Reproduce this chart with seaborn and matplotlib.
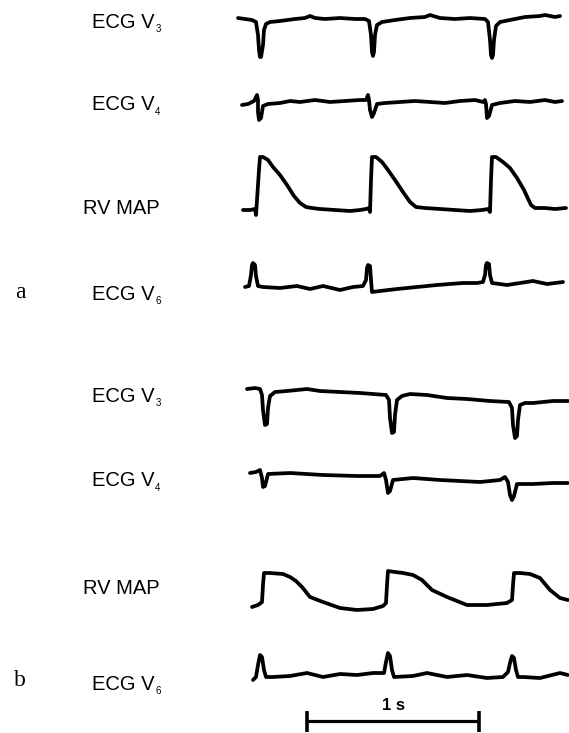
import numpy as np
import pandas as pd
import matplotlib
matplotlib.use("Agg")
import matplotlib.pyplot as plt
import seaborn as sns

# ---------------- data (sample index at FS Hz, amplitude in counts, up = +) ----
FS = 172.0  # samples per second

# Panel a
a_v3_n = [-2, 5, 12, 16, 18, 19, 20, 21, 23, 24, 26, 30, 40, 55, 65, 70, 75, 85, 100, 115, 125,
          129, 131, 132, 133, 134, 135, 137, 142, 155, 170, 185, 190, 200, 215, 230, 245,
          248, 250, 251, 252, 253, 254, 256, 260, 270, 285, 300, 305, 315, 320]
a_v3_amp = [1, 0, -1, -3, -16, -31, -38, -38, -26, -11, -5, -3, -2, 0, 1, 3, 1, 0, 1, 0, 0,
            -2, -16, -33, -37, -33, -16, -6, -3, -1, 1, 2, 4, 1, 0, 1, 0,
            -3, -21, -36, -39, -36, -21, -7, -3, -1, 2, 3, 4, 2, 3]

a_v4_n = [2, 8, 14, 17, 18, 18, 19, 21, 23, 28, 40, 50, 60, 75, 90, 105, 120, 126, 128, 129,
          130, 132, 134, 137, 145, 160, 175, 190, 205, 220, 235, 243, 245, 246, 247, 249, 252,
          260, 275, 290, 305, 315, 322]
a_v4_amp = [-2, -1, 2, 8, 3, -9, -17, -15, -3, -1, 0, 2, 1, 3, 1, 2, 3, 3, 8, 3,
            -7, -14, -10, -1, 0, 1, 2, 1, 0, 2, 3, 1, 3, -1, -15, -13, -2,
            0, 2, 1, 3, 1, 2]

a_map_n = [3, 10, 15, 16, 17, 19, 20, 23, 28, 33, 40, 47, 54, 60, 66, 72, 80, 95, 110, 120,
           126, 129, 130, 131, 132, 136, 142, 148, 155, 163, 170, 176, 185, 200, 215, 230,
           242, 248, 250, 251, 252, 256, 263, 270, 277, 284, 291, 295, 305, 315, 326]
a_map_amp = [0, 0, 1, -5, 10, 40, 53, 53, 50, 43, 35, 25, 14, 7, 3, 2, 1, 0, -1, 0,
             1, 2, -2, 30, 53, 53, 48, 40, 30, 18, 8, 3, 2, 1, 0, -1,
             0, 1, -2, 30, 53, 53, 48, 42, 32, 20, 5, 2, 2, 1, 2]

a_v6_n = [5, 9, 11, 12, 13, 15, 16, 18, 23, 40, 57, 70, 83, 100, 113, 123, 126, 127, 128, 130,
          131, 132, 140, 157, 177, 197, 223, 237, 243, 245, 246, 247, 249, 250, 252, 267, 280,
          293, 307, 323]
a_v6_amp = [0, 1, 12, 22, 24, 22, 11, 1, 0, -1, 1, -2, 1, -3, 0, 1, 7, 19, 22, 21,
            7, -5, -4, -2, 0, 2, 4, 4, 5, 12, 22, 24, 23, 12, 4, 2, 4,
            6, 3, 5]

# Panel b
b_v3_n = [7, 15, 20, 22, 23, 25, 27, 28, 30, 35, 47, 67, 80, 100, 120, 133, 146, 149, 150, 152,
          154, 155, 157, 162, 170, 187, 207, 227, 250, 269, 272, 273, 275, 277, 278, 280, 285,
          293, 313, 328]
b_v3_amp = [1, 2, 1, -5, -20, -35, -34, -18, -6, -2, -1, 1, -1, -2, -3, -4, -5, -10, -28, -43,
            -42, -25, -10, -6, -4, -5, -8, -9, -11, -12, -18, -35, -48, -46, -30, -15, -13,
            -13, -11, -11]

b_v4_n = [10, 16, 20, 22, 23, 25, 28, 50, 83, 117, 140, 144, 146, 148, 150, 153, 173, 200, 220,
          240, 260, 265, 268, 270, 272, 274, 277, 293, 313, 328]
b_v4_amp = [2, 3, 5, -3, -12, -11, 1, 2, 0, -1, -1, 2, -5, -18, -16, -5, -3, -5, -6,
            -7, -5, -2, -7, -20, -25, -21, -9, -9, -8, -8]

b_map_n = [12, 18, 22, 23, 24, 30, 43, 50, 56, 62, 70, 83, 100, 117, 133, 143, 146, 147, 148,
           155, 163, 173, 182, 192, 207, 227, 247, 267, 272, 273, 274, 280, 290, 300, 310, 320,
           328]
b_map_amp = [-2, 0, 3, 20, 32, 32, 31, 28, 24, 18, 8, 3, -3, -5, -4, -1, 2, 20, 34,
             33, 32, 30, 25, 15, 8, 0, 0, 2, 5, 20, 32, 32, 31, 27, 15, 7,
             5]

b_v6_n = [13, 16, 18, 20, 22, 24, 26, 33, 50, 67, 83, 100, 117, 133, 144, 146, 148, 150, 152,
          154, 173, 187, 207, 227, 247, 263, 268, 270, 272, 274, 276, 278, 283, 300, 320, 328]
b_v6_amp = [-3, 0, 12, 22, 20, 7, 0, 0, 1, 4, 0, 3, 2, 4, 4, 15, 24, 21, 7,
            0, 1, 4, 0, 2, -1, 0, 5, 14, 21, 19, 7, 0, 0, -1, 4, 2]

SCALE_BAR_S = 1.0
SCALE_LABEL = "1 s"

# ---------------- layout (pixel rows of the figure) ----------------
W, H = 569, 733
X0 = 240  # pixel column of sample 0
traces = [
    (a_v3_n, a_v3_amp, 19), (a_v4_n, a_v4_amp, 103),
    (a_map_n, a_map_amp, 210), (a_v6_n, a_v6_amp, 287),
    (b_v3_n, b_v3_amp, 390), (b_v4_n, b_v4_amp, 475),
    (b_map_n, b_map_amp, 605), (b_v6_n, b_v6_amp, 677),
]
labels = [
    ("ECG V", "3", 92, 22), ("ECG V", "4", 92, 105), ("RV MAP", "", 83, 209),
    ("ECG V", "6", 92, 294),
    ("ECG V", "3", 92, 396), ("ECG V", "4", 92, 481), ("RV MAP", "", 83, 589),
    ("ECG V", "6", 92, 684),
]

sns.set_theme(style="white")
plt.rcParams["font.family"] = ["Liberation Sans", "DejaVu Sans"]
plt.rcParams["text.color"] = "black"

fig = plt.figure(figsize=(W / 100, H / 100), dpi=100)
fig.patch.set_facecolor("white")
ax = fig.add_axes([0, 0, 1, 1])
ax.set_xlim(-X0 / FS, (W - X0) / FS)
ax.set_ylim(-H, 0)
ax.axis("off")

for n, amp, base in traces:
    df = pd.DataFrame({"t": np.asarray(n) / FS, "v": np.asarray(amp, float) - base})
    sns.lineplot(data=df, x="t", y="v", sort=False, estimator=None, color="black",
                 lw=2.7, ax=ax, solid_joinstyle="round", solid_capstyle="round")

# scale bar
t0 = 67 / FS
ax.plot([t0, t0 + SCALE_BAR_S], [-721, -721], color="black", lw=2.3, solid_capstyle="butt")
for tx in (t0, t0 + SCALE_BAR_S):
    ax.plot([tx, tx], [-711, -732], color="black", lw=2.6, solid_capstyle="butt")
fig.text(393 / W, 1 - 705 / H, SCALE_LABEL, ha="center", va="center",
         fontsize=12, fontweight="bold", color="black")

# trace labels
for main, sub, x, y in labels:
    t = fig.text(x / W, 1 - y / H, main, ha="left", va="center", fontsize=14.5, color="black")
    if sub:
        ax.annotate(sub, xy=(1, 0), xycoords=t, xytext=(0.5, -1.5),
                    textcoords="offset points", ha="left", va="bottom", fontsize=7,
                    color="black")

# panel letters
fig.text(20 / W, 1 - 292 / H, "a", ha="center", va="center", fontsize=17,
         family=["Liberation Serif", "DejaVu Serif"], color="black")
fig.text(20 / W, 1 - 680 / H, "b", ha="center", va="center", fontsize=17,
         family=["Liberation Serif", "DejaVu Serif"], color="black")

fig.savefig("out.png", dpi=100, facecolor="white")
